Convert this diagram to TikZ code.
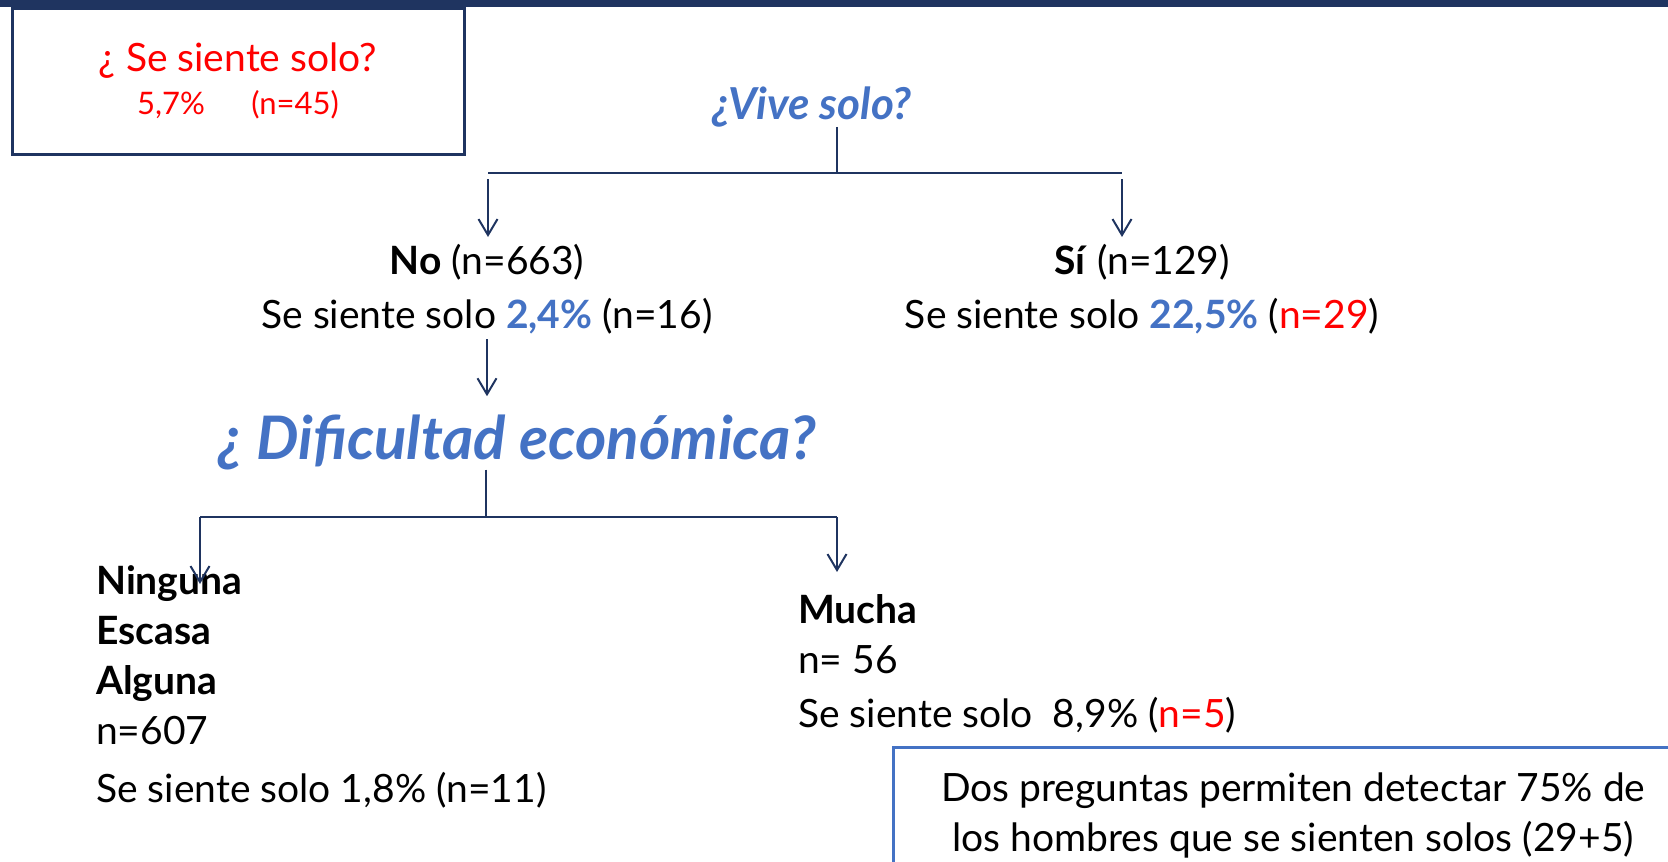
\documentclass[tikz,border=0pt]{standalone}
\usepackage{fontspec}
\setmainfont{Lato}
\usetikzlibrary{arrows.meta}
\definecolor{navy}{RGB}{31,52,96}
\definecolor{qblue}{RGB}{68,114,196}
\tikzset{x=1pt, y=-1pt,
txt/.style={font=\fontsize{39}{50}\selectfont, inner sep=0pt},
question/.style={font=\fontsize{44}{52}\selectfont\bfseries\itshape,
text=qblue, inner sep=0pt},
branch/.style={draw=navy, line width=2pt},
every edge/.style={draw=navy, line width=2pt,
-{Straight Barb[length=16pt,width=19pt]}}}

\begin{document}
\begin{tikzpicture}
\useasboundingbox (0,0) rectangle (1668,862);
\fill[navy] (0,0) rectangle (1668,7);
\node[draw=navy, line width=3pt, minimum width=452pt, minimum height=146pt,
text=red, align=center, font=\fontsize{39}{43}\selectfont] (total) at (238,81)
{¿ Se siente solo?\\{\fontsize{31}{43}\selectfont 5,7\%\hspace{1.5em}(n=45)}};
\node[question, anchor=base] (vive) at (812,119) {¿Vive solo?};
\node[txt, align=center, anchor=north] (no) at (487,244)
{\textbf{No} (n=663)\\[4pt]Se siente solo \textbf{\textcolor{qblue}{2,4\%}} (n=16)};
\node[txt, align=center, anchor=north] (si) at (1142,244)
{\textbf{Sí} (n=129)\\[4pt]Se siente solo \textbf{\textcolor{qblue}{22,5\%}} (\textcolor{red}{n=29})};
\node[question, font=\fontsize{60}{66}\selectfont\bfseries\itshape, anchor=base] (dific) at (517,459)
{¿ Dificultad económica?};
\node[txt, align=left, anchor=north west] (nin) at (96,565)
{\textbf{Ninguna}\\\textbf{Escasa}\\\textbf{Alguna}\\n=607\\[8pt]Se siente solo 1,8\% (n=11)};
\node[txt, align=left, anchor=north west] (mu) at (798,594)
{\textbf{Mucha}\\n= 56\\[4pt]Se siente solo\ \ 8,9\% (\textcolor{red}{n=5})};
\node[txt, draw=qblue, line width=2.5pt, align=center, minimum width=800pt,
minimum height=136pt, anchor=north west] (note) at (892,746)
{Dos preguntas permiten detectar 75\% de\\los hombres que se sienten solos (29+5)};
\coordinate (vj) at (837,173);
\coordinate (nl) at (488,173);
\coordinate (sr) at (1122,173);
\coordinate (dj) at (486,517);
\coordinate (dl) at (200,517);
\coordinate (dr) at (837,517);
\draw[branch] (vive.south -| vj) -- (vj);
\draw[branch] (nl) -- (sr);
\draw (nl) edge[shorten <=6pt, shorten >=7pt] (nl |- no.north);
\draw (sr) edge[shorten <=6pt, shorten >=7pt] (sr |- si.north);
\draw (no.south) edge[shorten <=5pt, shorten >=18pt] (no.south |- dific.north);
\draw[branch] (dific.south -| dj) -- (dj);
\draw[branch] (dl) -- (dr);
\draw (dl) edge[shorten >=-19pt] (dl |- nin.north);
\draw (dr) edge[shorten >=22pt] (dr |- mu.north);
\end{tikzpicture}
\end{document}
